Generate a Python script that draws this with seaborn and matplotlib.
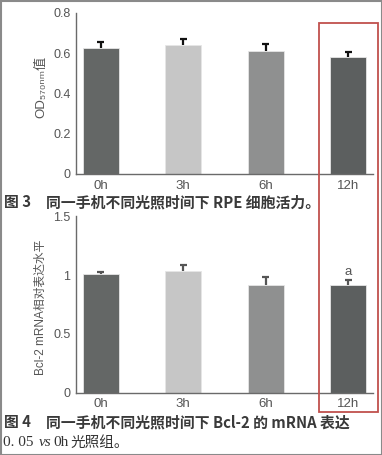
import numpy as np
import pandas as pd
import seaborn as sns
import matplotlib.pyplot as plt
from matplotlib.patches import Rectangle

# DATA
hours = ['0h', '3h', '6h', '12h']
od_mean = [0.626, 0.641, 0.613, 0.583]
od_err = [0.028, 0.028, 0.034, 0.025]
bcl_mean = [1.006, 1.037, 0.915, 0.915]
bcl_err = [0.017, 0.048, 0.065, 0.042]
bar_colors = ['#646766', '#c6c6c6', '#8f9090', '#5b605f']
sig_mark = ['', '', '', 'a']

sns.set_theme(style='white')
plt.rcParams['font.family'] = ['Liberation Sans', 'DejaVu Sans', 'Noto Sans CJK SC']

fig = plt.figure(figsize=(3.82, 4.55), dpi=100)
fig.patch.set_facecolor('white')

ax1 = fig.add_axes([76/382, 1 - 174/455, 297/382, 161/455])
ax2 = fig.add_axes([76/382, 1 - 392.7/455, 297/382, 176.5/455])

df1 = pd.DataFrame({'h': hours, 'v': od_mean})
df2 = pd.DataFrame({'h': hours, 'v': bcl_mean})

for ax, df, err, ecol in [(ax1, df1, od_err, '#111111'), (ax2, df2, bcl_err, '#555555')]:
    sns.barplot(data=df, x='h', y='v', hue='h', palette=bar_colors, legend=False,
                width=0.44, edgecolor='#e6e6e6', linewidth=0.6, errorbar=None, ax=ax)
    # one-sided (upper) error bars
    x = np.arange(len(hours))
    top = df['v'].to_numpy() + np.array(err)
    ax.vlines(x, df['v'], top, color=ecol, linewidth=1.6)
    ax.hlines(top, x - 0.04, x + 0.04, color=ecol, linewidth=1.6)
    ax.set_xlim(-0.3, 3.3)
    ax.set_xlabel('')
    for s in ['top', 'right']:
        ax.spines[s].set_visible(False)
    for s in ['left', 'bottom']:
        ax.spines[s].set_color('#6a6a6a')
        ax.spines[s].set_linewidth(1.0)
    ax.tick_params(axis='x', length=0, labelsize=9.5, colors='#555555', pad=4)
    ax.set_xticks([0.5, 1.5, 2.5], minor=True)
    ax.tick_params(axis='x', which='minor', direction='in', length=2.5, color='#6a6a6a', width=0.8)
    ax.tick_params(axis='y', direction='out', length=2.5, width=0.8, color='#6a6a6a',
                   labelsize=9, labelcolor='#555555', pad=1.5)
    ax.set_facecolor('none')

ax1.set_ylim(0, 0.8)
ax1.set_yticks([0, 0.2, 0.4, 0.6, 0.8])
ax1.set_yticklabels(['0', '0.2', '0.4', '0.6', '0.8'])
ax1.set_ylabel('OD₅₇₀ₙₘ值', fontsize=9.5, color='#555555')
ax1.yaxis.set_label_coords(-0.098, 0.54)

ax2.set_ylim(0, 1.5)
ax2.set_yticks([0, 0.5, 1, 1.5])
ax2.set_yticklabels(['0', '0.5', '1', '1.5'])
ax2.set_ylabel('Bcl-2 mRNA相对表达水平', fontsize=8.5, color='#555555')
ax2.yaxis.set_label_coords(-0.098, 0.486)
for i, m in enumerate(sig_mark):
    if m:
        ax2.text(i, bcl_mean[i] + bcl_err[i] + 0.02, m, ha='center', va='bottom',
                 fontsize=9.5, color='#555555')

# captions
cap = dict(family=['Noto Sans CJK SC', 'DejaVu Sans'], fontsize=10.7, color='#3a3a3a',
           weight='bold', va='center', ha='left')
fig.text(4/382, 1 - 202/455, '图 3', **cap)
fig.text(46/382, 1 - 202/455, '同一手机不同光照时间下 RPE 细胞活力。', **cap)
fig.text(4/382, 1 - 422/455, '图 4', **cap)
fig.text(46/382, 1 - 422/455, '同一手机不同光照时间下 Bcl-2 的 mRNA 表达', **cap)
ser = dict(fontsize=11, color='#333333', va='center', ha='left')
fig.text(3/382, 1 - 443/455, '0. 05', family=['Liberation Serif'], **ser)
fig.text(39/382, 1 - 443/455, 'vs', family=['Liberation Serif'], style='italic', **ser)
fig.text(53/382, 1 - 443/455, '0h', family=['Liberation Serif'], **ser)
fig.text(70/382, 1 - 443/455, '光照组。', family=['Noto Sans CJK SC'], fontsize=10.5,
         color='#333333', va='center', ha='left')

# red highlight box and outer border
fig.patches.append(Rectangle((319/382, 1 - 412/455), 59/382, 389/455, transform=fig.transFigure,
                             fill=False, edgecolor='#c0504d', linewidth=1.3))
fig.patches.append(Rectangle((0.5/382, 0.5/455), 381/382, 454/455, transform=fig.transFigure,
                             fill=False, edgecolor='#8a8a8a', linewidth=1.5))

fig.savefig('out.png', dpi=100)
